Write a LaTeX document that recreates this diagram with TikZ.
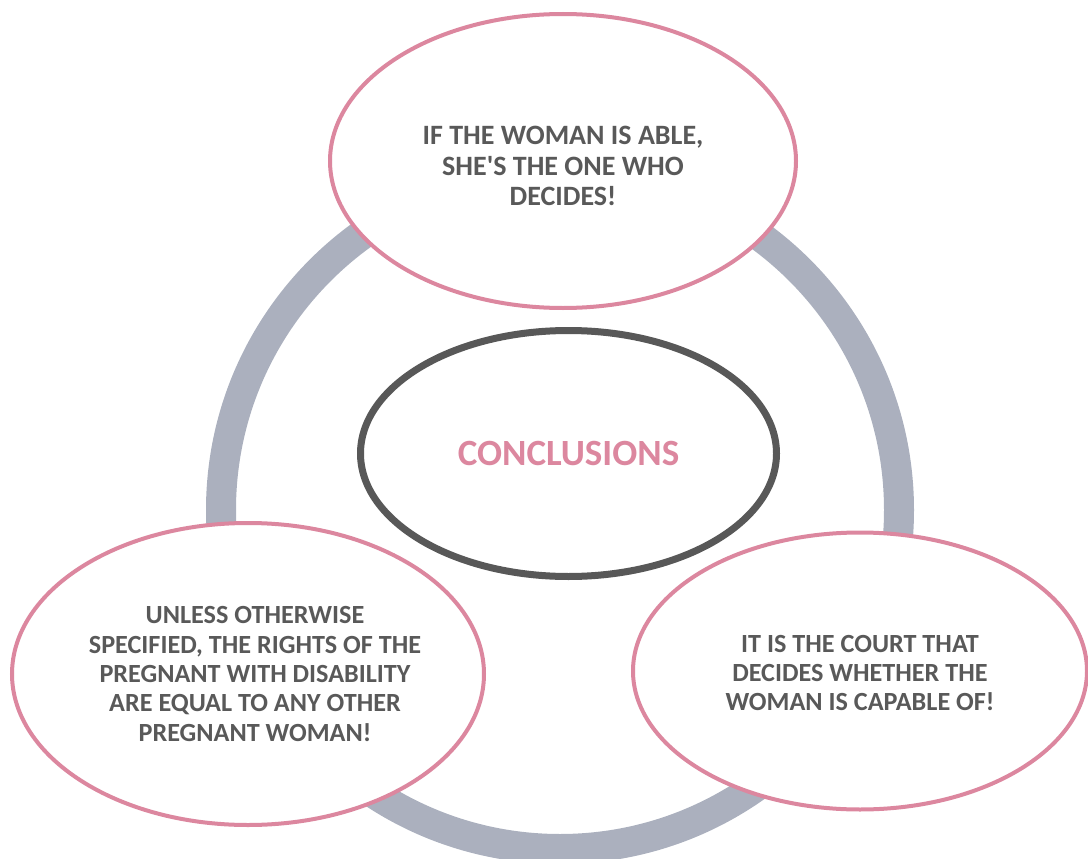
\documentclass[tikz,border=0pt]{standalone}
\usepackage{fontspec}
\setmainfont{Carlito}
\usetikzlibrary{shapes.geometric,positioning}
\definecolor{pinkline}{HTML}{DC879F}
\definecolor{ringgray}{HTML}{ABB0BE}
\definecolor{textgray}{HTML}{595959}
\definecolor{darkline}{HTML}{585858}
\tikzset{
  bubble/.style={ellipse,draw=pinkline,line width=4pt,fill=white,inner sep=0pt},
  bubbletext/.style={text=textgray,inner sep=0pt,align=center,
    font=\fontsize{26.2}{29.3}\selectfont\bfseries},
  hub/.style={ellipse,draw=darkline,line width=7pt,fill=white,inner sep=0pt,
    text=pinkline,font=\fontsize{37}{40}\selectfont\bfseries}
}
\begin{document}
\begin{tikzpicture}[x=1pt,y=-1pt]
\useasboundingbox (0,0) rectangle (1088,859);

% ring behind the bubbles
\coordinate (mid) at (560,510);
\draw[ringgray,line width=30pt] (mid) circle (339pt);

\node[hub,minimum width=416pt,minimum height=246pt] (conc) at (568.5,453.5) {CONCLUSIONS};
\node[bubble,minimum width=466pt,minimum height=294pt] (able) at (563,161) {};
\node[bubble,minimum width=472pt,minimum height=302pt] (rights) at (248,674) {};
\node[bubble,minimum width=454pt,minimum height=277pt] (court) at (860,671) {};

% texts
\node[bubbletext,font=\fontsize{28}{30.5}\selectfont\bfseries] (abletext)
  at ([shift={(0,5)}]able.center)
  {IF THE WOMAN IS ABLE,\\SHE\textquotesingle S THE ONE WHO\\DECIDES!};
\node[bubbletext] (rightstext) at ([shift={(7,0)}]rights.center)
  {UNLESS OTHERWISE\\SPECIFIED, THE RIGHTS OF THE\\PREGNANT WITH DISABILITY\\ARE EQUAL TO ANY OTHER\\PREGNANT WOMAN!};
\node[bubbletext] (courttext) at ([shift={(0,2)}]court.center)
  {IT IS THE COURT THAT\\DECIDES WHETHER THE\\WOMAN IS CAPABLE OF!};
\end{tikzpicture}
\end{document}
